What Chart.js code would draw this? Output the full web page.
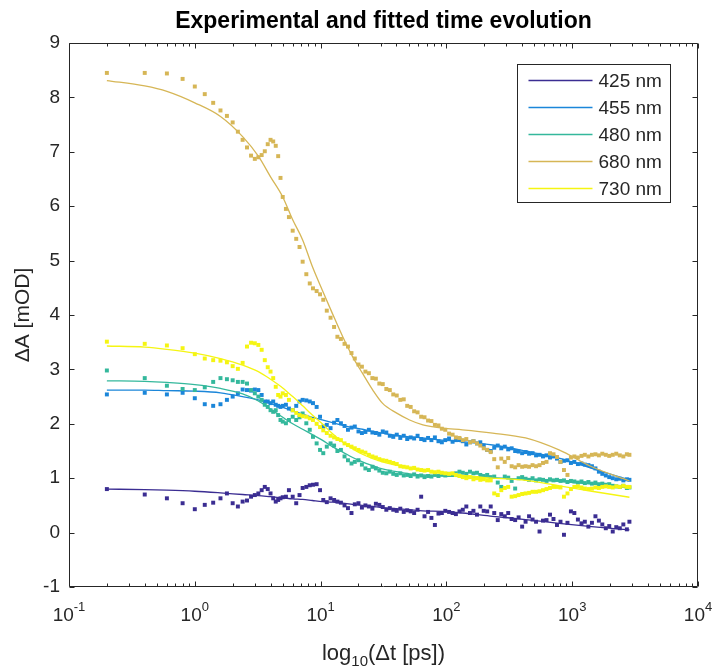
<!DOCTYPE html>
<html>
<head>
<meta charset="utf-8">
<script src="https://cdn.jsdelivr.net/npm/chart.js@4.4.1/dist/chart.umd.min.js"></script>
<style>
  html, body { margin: 0; padding: 0; background: #fff; }
  #wrap { width: 716px; height: 669px; }
</style>
</head>
<body>
<div id="wrap"><canvas id="chart" width="716" height="669"></canvas></div>
<script>
// measured delay times (ps)
var times = [0.2,0.4,0.6,0.8,1.0,1.2,1.4,1.6,1.8,2.0,2.2,2.4,2.6,2.8,3.0,3.2,3.4,3.6,3.8,4.0,4.2,4.4,4.6,4.8,5.0,
  5.3,5.6,6.0,6.4,6.8,7.2,7.7,8.2,8.7,9.3,
  9.9,10.5,11.2,12,12.8,13.6,14.5,15.5,16.5,17.6,
  18.7,20,21.3,22.7,24.2,25.8,27.5,29.3,31.2,33.3,
  35.5,37.8,40.3,43,45.8,48.8,52,55.4,59,63,
  67,71.5,76,81,86.5,92,98,105,112,119,
  127,135,144,154,164,175,186,198,211,225,
  240,256,273,291,310,330,352,375,400,426,
  454,484,516,550,586,625,666,710,757,807,
  860,917,977,1040,1110,1185,1260,1345,1435,1530,
  1630,1735,1850,1970,2100,2240,2390,2550,2720,2850];

var v425 = [0.80,0.70,0.63,0.54,0.43,0.51,0.55,0.63,0.72,0.54,0.48,0.57,0.59,0.66,0.69,0.72,0.78,0.84,0.80,0.72,0.63,0.57,0.60,0.63,0.65,
  0.66,0.78,0.66,0.54,0.69,0.82,0.84,0.87,0.88,0.89,
  0.78,0.60,0.56,0.63,0.60,0.57,0.55,0.50,0.45,0.36,
  0.52,0.54,0.46,0.50,0.48,0.44,0.53,0.51,0.47,0.42,
  0.45,0.42,0.40,0.44,0.38,0.41,0.39,0.36,0.42,0.66,
  0.30,0.38,0.27,0.14,0.35,0.36,0.40,0.38,0.36,0.34,
  0.39,0.42,0.48,0.36,0.40,0.33,0.48,0.40,0.39,0.48,
  0.36,0.23,0.34,0.30,0.36,0.25,0.23,0.28,0.11,0.20,
  0.30,0.24,0.20,0.02,0.22,0.23,0.33,0.25,0.14,0.20,
  -0.04,0.18,0.39,0.36,0.24,0.17,0.20,0.11,0.18,0.30,
  0.22,0.15,0.08,0.12,0.02,0.10,0.08,0.15,0.06,0.20];

var v455 = [2.54,2.57,2.54,2.57,2.47,2.36,2.33,2.36,2.44,2.50,2.56,2.63,2.62,2.61,2.63,2.62,2.53,2.41,2.41,2.38,2.41,2.35,2.33,2.31,2.33,
  2.35,2.28,2.25,2.33,2.41,2.44,2.43,2.41,2.38,2.31,
  2.13,1.95,1.98,1.92,2.02,2.07,2.01,1.96,1.89,1.93,
  1.95,1.86,1.83,1.85,1.89,1.84,1.83,1.80,1.86,1.84,
  1.78,1.76,1.80,1.74,1.78,1.72,1.75,1.73,1.78,1.72,
  1.70,1.74,1.70,1.75,1.68,1.66,1.70,1.73,1.67,1.70,
  1.72,1.68,1.62,1.66,1.68,1.64,1.66,1.60,1.52,1.50,
  1.56,1.60,1.55,1.58,1.53,1.55,1.50,1.49,1.46,1.48,
  1.45,1.46,1.42,1.43,1.40,1.42,1.38,1.40,1.36,1.30,
  1.32,1.33,1.28,1.30,1.26,1.27,1.25,1.24,1.22,1.18,
  1.12,1.08,1.05,1.02,1.00,0.98,0.99,0.96,0.98,0.97];

var v480 = [2.98,2.84,2.70,2.64,2.62,2.67,2.77,2.84,2.82,2.80,2.77,2.77,2.74,2.62,2.56,2.50,2.44,2.35,2.31,2.25,2.22,2.25,2.16,2.07,2.04,
  2.01,2.07,2.13,2.07,2.12,2.19,2.01,1.89,1.76,1.64,
  1.52,1.46,1.58,1.64,1.60,1.50,1.52,1.40,1.33,1.27,
  1.30,1.33,1.25,1.18,1.15,1.21,1.18,1.14,1.10,1.09,
  1.12,1.08,1.06,1.09,1.05,1.06,1.04,1.07,1.03,1.05,
  1.02,1.04,1.03,1.06,1.04,1.07,1.05,1.08,1.06,1.09,
  1.12,1.10,1.08,1.12,1.09,1.10,1.06,1.04,1.06,1.02,
  1.03,0.92,0.84,1.03,1.01,0.95,0.81,1.00,1.02,0.99,
  0.97,1.00,0.96,0.98,0.97,0.95,0.98,0.96,0.97,0.95,
  0.96,0.93,0.95,0.94,0.92,0.94,0.91,0.93,0.90,0.92,
  0.89,0.90,0.88,0.89,0.86,0.85,0.84,0.86,0.82,0.83];

var v680 = [8.45,8.45,8.44,8.34,8.20,8.06,7.90,7.76,7.66,7.54,7.37,7.22,7.08,6.93,6.87,6.90,6.94,7.01,7.14,7.22,7.19,7.11,6.92,6.52,6.17,
  5.95,5.80,5.55,5.40,5.25,4.98,4.75,4.58,4.49,4.44,
  4.38,4.28,4.08,3.95,3.78,3.60,3.56,3.47,3.42,3.30,
  3.20,3.09,3.05,2.96,2.93,2.84,2.83,2.74,2.73,2.64,
  2.62,2.54,2.52,2.44,2.45,2.33,2.31,2.23,2.21,2.13,
  2.12,2.06,2.05,1.98,1.97,1.91,1.89,1.82,1.80,1.75,
  1.74,1.70,1.72,1.66,1.68,1.64,1.60,1.55,1.52,1.48,
  1.35,1.20,1.36,1.30,1.37,1.22,1.20,1.24,1.21,1.22,
  1.21,1.24,1.22,1.24,1.28,1.30,1.46,1.44,1.39,1.30,
  1.15,1.06,1.38,1.40,1.38,1.41,1.43,1.40,1.43,1.44,
  1.42,1.45,1.43,1.41,1.43,1.45,1.42,1.40,1.44,1.43];

var v730 = [3.51,3.47,3.44,3.39,3.28,3.20,3.17,3.16,3.13,3.06,3.01,3.12,3.42,3.49,3.48,3.45,3.36,3.17,3.04,2.96,2.84,2.68,2.53,2.50,2.56,
  2.53,2.44,2.25,2.20,2.16,2.14,2.13,2.10,2.07,2.00,
  1.94,1.88,1.83,1.78,1.75,1.72,1.70,1.64,1.61,1.58,
  1.55,1.52,1.49,1.47,1.43,1.40,1.38,1.35,1.33,1.32,
  1.30,1.28,1.26,1.22,1.21,1.20,1.18,1.19,1.16,1.15,
  1.14,1.15,1.12,1.11,1.12,1.10,1.09,1.08,1.09,1.06,
  1.04,1.02,1.00,1.02,0.98,1.00,0.97,0.98,0.96,0.96,
  0.72,0.69,0.78,0.82,0.84,0.66,0.67,0.69,0.71,0.72,
  0.73,0.75,0.75,0.76,0.78,0.80,0.82,0.84,0.84,0.83,
  0.66,0.72,0.80,0.84,0.85,0.83,0.81,0.80,0.81,0.83,
  0.82,0.84,0.85,0.84,0.83,0.85,0.84,0.86,0.84,0.84];

// fitted curves
var fitTimes = [0.2,0.4,0.6,1,1.6,2.4,3.2,4,5,6,7.2,8.6,10.3,12.4,15,18,21.5,26,31,40,51,65,93,134,233,426,785,1430,2850];
var f425 = [0.80,0.79,0.78,0.76,0.73,0.70,0.68,0.66,0.64,0.62,0.61,0.59,0.57,0.56,0.54,0.52,0.50,0.48,0.46,0.44,0.42,0.40,0.39,0.36,0.30,0.24,0.17,0.11,0.05];
var f455 = [2.62,2.62,2.61,2.60,2.57,2.50,2.44,2.37,2.30,2.24,2.18,2.12,2.07,2.02,1.97,1.93,1.90,1.86,1.83,1.79,1.76,1.74,1.70,1.67,1.61,1.50,1.37,1.18,0.97];
var f480 = [2.79,2.78,2.76,2.72,2.65,2.55,2.42,2.27,2.12,2.00,1.90,1.80,1.70,1.58,1.48,1.38,1.30,1.23,1.17,1.12,1.08,1.06,1.04,1.03,1.01,0.98,0.94,0.89,0.82];
var f680 = [8.31,8.21,8.11,7.90,7.65,7.28,6.92,6.54,6.17,5.75,5.38,4.89,4.46,4.03,3.60,3.23,2.93,2.62,2.38,2.20,2.07,1.98,1.92,1.89,1.83,1.74,1.52,1.21,0.95];
var f730 = [3.43,3.41,3.37,3.30,3.20,3.08,2.96,2.82,2.66,2.50,2.33,2.16,2.00,1.82,1.66,1.54,1.44,1.36,1.30,1.24,1.18,1.14,1.09,1.05,1.00,0.96,0.86,0.76,0.65];

var names = ['425 nm', '455 nm', '480 nm', '680 nm', '730 nm'];
var colors = ['#3B2D92', '#1B86D9', '#34B89C', '#D6B656', '#F5F512'];
var xExps = [-1, 0, 1, 2, 3, 4];
var yTicks = [-1, 0, 1, 2, 3, 4, 5, 6, 7, 8, 9];

var axisColor = '#262626';
var fontFam = '"Liberation Sans", Arial, Helvetica, sans-serif';

function pts(xs, ys) {
  return xs.map(function(x, i) { return {x: x, y: ys[i]}; });
}

var dataSeries = [v425, v455, v480, v680, v730];
var fitSeries = [f425, f455, f480, f680, f730];

var datasets = [];
for (var i = 0; i < names.length; i++) {
  datasets.push({
    type: 'scatter',
    label: names[i] + ' data',
    data: pts(times, dataSeries[i]),
    pointStyle: 'rect',
    pointRadius: 2.8,
    pointBackgroundColor: colors[i],
    pointBorderWidth: 0,
    showLine: false,
    order: 20 - 2 * i
  });
  datasets.push({
    type: 'line',
    label: names[i],
    data: pts(fitTimes, fitSeries[i]),
    borderColor: colors[i],
    borderWidth: 1.3,
    pointRadius: 0,
    fill: false,
    cubicInterpolationMode: 'monotone',
    order: 19 - 2 * i
  });
}

// draws the matlab style box, ticks, labels and legend
var matlabAxes = {
  id: 'matlabAxes',
  afterDraw: function(chart) {
    var ctx = chart.ctx;
    var a = chart.chartArea;
    var xs = chart.scales.x, ys = chart.scales.y;
    var L = Math.round(a.left) + 0.5, R = Math.round(a.right) - 0.5;
    var T = Math.round(a.top) + 0.5, B = Math.round(a.bottom) - 0.5;
    ctx.save();
    ctx.strokeStyle = axisColor;
    ctx.lineWidth = 1;
    ctx.beginPath();
    ctx.rect(L, T, R - L, B - T);
    ctx.stroke();

    // y ticks, both sides
    ctx.beginPath();
    yTicks.forEach(function(v) {
      var y = Math.round(ys.getPixelForValue(v)) + 0.5;
      ctx.moveTo(L, y); ctx.lineTo(L + 5, y);
      ctx.moveTo(R, y); ctx.lineTo(R - 5, y);
    });
    // x ticks, major and minor, top and bottom
    xExps.forEach(function(p) {
      var x = Math.round(xs.getPixelForValue(Math.pow(10, p))) + 0.5;
      ctx.moveTo(x, B); ctx.lineTo(x, B - 5);
      ctx.moveTo(x, T); ctx.lineTo(x, T + 5);
      if (p < 4) {
        for (var m = 2; m <= 9; m++) {
          var xm = Math.round(xs.getPixelForValue(m * Math.pow(10, p))) + 0.5;
          ctx.moveTo(xm, B); ctx.lineTo(xm, B - 3);
          ctx.moveTo(xm, T); ctx.lineTo(xm, T + 3);
        }
      }
    });
    ctx.stroke();

    // x tick labels 10^p
    ctx.fillStyle = axisColor;
    ctx.textBaseline = 'alphabetic';
    xExps.forEach(function(p) {
      var x = xs.getPixelForValue(Math.pow(10, p));
      ctx.font = '19px ' + fontFam;
      var wb = ctx.measureText('10').width;
      ctx.font = '13px ' + fontFam;
      var we = ctx.measureText(String(p)).width;
      var x0 = x - (wb + we) / 2;
      ctx.textAlign = 'left';
      ctx.font = '19px ' + fontFam;
      ctx.fillText('10', x0, B + 34);
      ctx.font = '13px ' + fontFam;
      ctx.fillText(String(p), x0 + wb, B + 24);
    });

    // x axis label with subscript
    var cx = (a.left + a.right) / 2;
    ctx.font = '22px ' + fontFam;
    var w1 = ctx.measureText('log').width;
    var w3 = ctx.measureText('(\u0394t [ps])').width;
    ctx.font = '15px ' + fontFam;
    var w2 = ctx.measureText('10').width;
    var sx = cx - (w1 + w2 + w3) / 2;
    ctx.textAlign = 'left';
    ctx.font = '22px ' + fontFam;
    ctx.fillText('log', sx, B + 73);
    ctx.font = '15px ' + fontFam;
    ctx.fillText('10', sx + w1, B + 79);
    ctx.font = '22px ' + fontFam;
    ctx.fillText('(\u0394t [ps])', sx + w1 + w2, B + 73);

    // y axis label
    ctx.save();
    ctx.translate(29, (a.top + a.bottom) / 2);
    ctx.rotate(-Math.PI / 2);
    ctx.textAlign = 'center';
    ctx.font = '21px ' + fontFam;
    ctx.fillText('\u0394A [mOD]', 0, 0);
    ctx.restore();

    // title
    ctx.textAlign = 'center';
    ctx.font = 'bold 23px ' + fontFam;
    ctx.fillStyle = '#000';
    ctx.fillText('Experimental and fitted time evolution', cx, a.top - 15);

    // legend box
    var bl = Math.round(a.right) - 181 + 0.5, bt = Math.round(a.top) + 21 + 0.5;
    ctx.fillStyle = '#fff';
    ctx.fillRect(bl, bt, 153, 138);
    ctx.strokeStyle = axisColor;
    ctx.strokeRect(bl, bt, 153, 138);
    ctx.font = '19px ' + fontFam;
    ctx.textAlign = 'left';
    ctx.textBaseline = 'middle';
    names.forEach(function(n, k) {
      var y = bt + 16 + 27 * k;
      ctx.strokeStyle = colors[k];
      ctx.lineWidth = 1.5;
      ctx.beginPath();
      ctx.moveTo(bl + 11, y); ctx.lineTo(bl + 75, y);
      ctx.stroke();
      ctx.fillStyle = axisColor;
      ctx.fillText(n, bl + 81, y + 1);
    });
    ctx.restore();
  }
};

var ctx = document.getElementById('chart');
var chart = new Chart(ctx, {
  type: 'scatter',
  data: { datasets: datasets },
  options: {
    responsive: false,
    animation: false,
    layout: { padding: { left: 0, top: 43, right: 18, bottom: 0 } },
    plugins: {
      legend: { display: false },
      tooltip: { enabled: false },
      title: { display: false }
    },
    scales: {
      x: {
        type: 'logarithmic',
        min: 0.1,
        max: 10000,
        grid: { display: false },
        border: { display: false },
        ticks: { display: false },
        afterFit: function(scale) { scale.height = 82; }
      },
      y: {
        type: 'linear',
        min: -1,
        max: 9,
        grid: { display: false },
        border: { display: false },
        ticks: {
          stepSize: 1,
          padding: 1,
          color: axisColor,
          font: { size: 19, family: fontFam }
        },
        afterFit: function(scale) { scale.width = 69; }
      }
    }
  },
  plugins: [matlabAxes]
});
</script>
</body>
</html>
